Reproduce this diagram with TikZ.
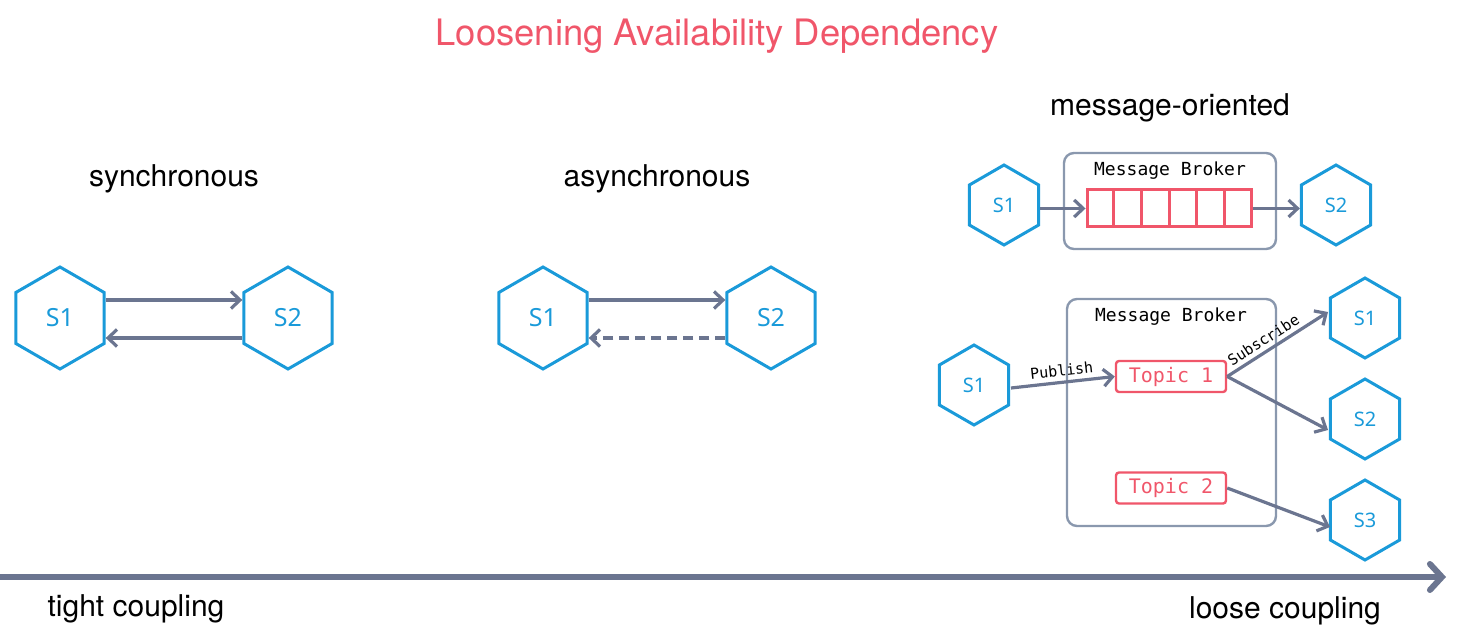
\documentclass[tikz,border=0pt]{standalone}
\usepackage{fontspec}
\setmainfont{TeX Gyre Heros}
\newfontfamily\hexfont{Noto Sans}
\newfontfamily\monofnt{DejaVu Sans Mono}
\usetikzlibrary{shapes.geometric,arrows.meta,calc}
\definecolor{hexblue}{HTML}{1A9AD9}
\definecolor{arrgray}{HTML}{6B7590}
\definecolor{boxgray}{HTML}{8A98AE}
\definecolor{accred}{HTML}{F0566A}
\tikzset{
  hexbig/.style={regular polygon, regular polygon sides=6, shape border rotate=30, draw=hexblue, line width=1.5pt, minimum size=51pt, inner sep=0pt, text=hexblue, font=\hexfont\fontsize{12.5}{14}\selectfont},
  hexsmall/.style={hexbig, minimum size=40pt, font=\hexfont\fontsize{10}{12}\selectfont},
  arr/.style={draw=arrgray, line width=1.6pt, -{Straight Barb[length=4.5pt,width=8.5pt,line width=1.6pt]}},
  broker/.style={draw=boxgray, line width=1.2pt, rounded corners=5pt},
  topic/.style={draw=accred, line width=1.2pt, rounded corners=1.5pt, minimum width=55pt, minimum height=15.5pt, inner sep=0pt, text=accred, font=\monofnt\fontsize{10}{12}\selectfont},
  heading/.style={font=\fontsize{15}{18}\selectfont},
  mono/.style={font=\monofnt\fontsize{9}{11}\selectfont},
  lbl/.style={font=\monofnt\fontsize{7.5}{9}\selectfont, inner sep=2pt}
}
\begin{document}
\begin{tikzpicture}[x=0.5pt,y=-0.5pt]
\useasboundingbox (0,0) rectangle (1459,641);
% title
\node[text=accred, font=\fontsize{18.2}{21}\selectfont] (title) at (717,36) {Loosening Availability Dependency};
% headings
\node[heading] (hsync) at (174,179) {synchronous};
\node[heading] (hasync) at (657,179) {asynchronous};
\node[heading] (hmsg) at (1170,108) {message-oriented};
% synchronous
\node[hexbig] (a1) at (60,318) {S1};
\node[hexbig] (a2) at (288,318) {S2};
\draw[arr] ([yshift=9pt]a1.east) -- ([yshift=9pt]a2.west);
\draw[arr] ([yshift=-10pt]a2.west) -- ([yshift=-10pt]a1.east);
% asynchronous
\node[hexbig] (b1) at (543,318) {S1};
\node[hexbig] (b2) at (771,318) {S2};
\draw[arr] ([yshift=9pt]b1.east) -- ([yshift=9pt]b2.west);
\draw[arr, dash pattern=on 5pt off 3pt] ([yshift=-10pt]b2.west) -- ([yshift=-10pt]b1.east);
% message-oriented top
\node[broker, minimum width=106pt, minimum height=48pt] (mb1) at (1170,201) {};
\node[mono] (mb1l) at (1170,171) {Message Broker};
\node[draw=accred, line width=1.5pt, minimum width=82pt, minimum height=18.5pt, inner sep=0pt] (q) at (1169,208.5) {};
\foreach \i in {1,...,5} {
  \draw[accred, line width=1.5pt] ($(q.north west)!\i/6!(q.north east)$) -- ($(q.south west)!\i/6!(q.south east)$);
}
\node[hexsmall] (c1) at (1004,205) {S1};
\node[hexsmall] (c2) at (1336,205) {S2};
\draw[arr] (c1.east |- q.west) -- (q.west);
\draw[arr] (q.east) -- (c2.west |- q.east);
% message-oriented bottom
\node[broker, minimum width=104.5pt, minimum height=113.5pt] (mb2) at (1171.5,412.5) {};
\node[mono] (mb2l) at (1171,317) {Message Broker};
\node[topic] (t1) at (1171,376.5) {Topic 1};
\node[topic] (t2) at (1171,488) {Topic 2};
\node[hexsmall] (d0) at (974,385) {S1};
\node[hexsmall] (d1) at (1365,318) {S1};
\node[hexsmall] (d2) at (1365,419) {S2};
\node[hexsmall] (d3) at (1365,520) {S3};
\coordinate (pubstart) at (1011,388);
\coordinate (sub1) at (1328,312);
\coordinate (sub2) at (1328,430);
\coordinate (sub3) at (1330,527);
\draw[arr] (pubstart) -- node[lbl, sloped, above] {Publish} (t1.west);
\draw[arr] (t1.east) -- node[lbl, sloped, above, pos=0.42] {Subscribe} (sub1);
\draw[arr] (t1.east) -- (sub2);
\draw[arr] (t2.east) -- (sub3);
% axis
\coordinate (axs) at (0,577);
\coordinate (axe) at (1446,577);
\draw[draw=arrgray, line width=3pt, -{Straight Barb[length=6pt,width=13pt,line width=3pt,line cap=round]}] (axs) -- (axe);
\node[heading] (tight) at (136,609) {tight coupling};
\node[heading] (loose) at (1285,611) {loose coupling};
\end{tikzpicture}
\end{document}
